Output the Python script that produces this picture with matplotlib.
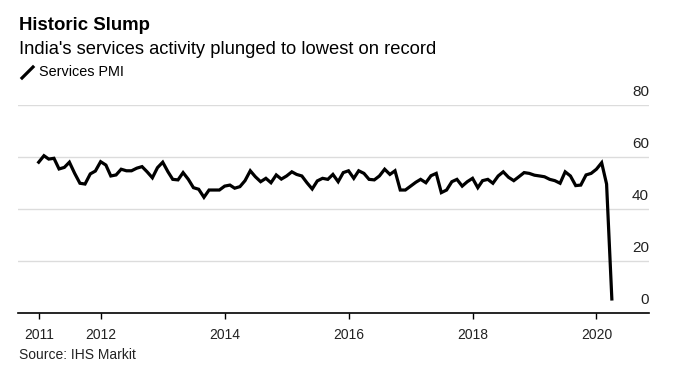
import numpy as np
import pandas as pd
import matplotlib
matplotlib.use("Agg")
import matplotlib.pyplot as plt
from matplotlib.lines import Line2D

plt.rcParams['font.family'] = ['Liberation Sans', 'DejaVu Sans']

# India services PMI, monthly from Jan 2011 to Apr 2020
pmi = [58.0, 60.5, 59.2, 59.5, 55.4, 56.0, 58.0, 53.7, 49.9, 49.6, 53.5, 54.6,
       58.2, 56.9, 52.7, 53.1, 55.3, 54.7, 54.7, 55.7, 56.3, 54.3, 52.0, 55.9,
       58.0, 54.3, 51.4, 51.2, 54.0, 51.4, 48.2, 47.6, 44.5, 47.3, 47.3, 47.3,
       48.8, 49.2, 48.0, 48.6, 50.9, 54.7, 52.4, 50.5, 51.8, 50.1, 53.1, 51.5,
       52.7, 54.3, 53.3, 52.7, 50.1, 47.7, 50.8, 51.8, 51.4, 53.3, 50.5, 54.0,
       54.7, 51.8, 54.7, 53.7, 51.4, 51.2, 52.7, 55.3, 53.3, 54.7, 47.3, 47.3,
       48.8, 50.3, 51.4, 50.1, 52.8, 53.7, 46.3, 47.3, 50.5, 51.4, 48.8, 50.5,
       51.8, 48.2, 50.9, 51.4, 49.9, 52.7, 54.3, 52.2, 50.9, 52.4, 54.0, 53.7,
       53.0, 52.7, 52.4, 51.4, 50.9, 49.9, 54.3, 52.7, 49.0, 49.2, 53.1, 53.7,
       55.3, 57.8, 49.6, 5.4]
months = pd.date_range("2011-01-01", periods=len(pmi), freq="MS")
year_ticks = [2011, 2012, 2014, 2016, 2018, 2020]
y_ticks = [0, 20, 40, 60, 80]

W, H = 679, 385
fig = plt.figure(figsize=(W / 100, H / 100), dpi=100)
ax = fig.add_axes([18 / W, 1 - 313 / H, (649 - 18) / W, (313 - 105) / H])

ax.plot(months, pmi, color="black", lw=2.3, solid_joinstyle="miter", zorder=3)

ax.set_ylim(0, 80)
ax.set_xlim(pd.Timestamp("2010-09-01"), pd.Timestamp("2020-11-06"))

# horizontal grid + right side labels sitting on top of the lines
for v in y_ticks[1:]:
    ax.axhline(v, color="#dcdcdc", lw=1, zorder=1)
for v in y_ticks:
    ax.annotate(str(v), xy=(1, v), xycoords=ax.get_yaxis_transform(),
                xytext=(0, 4), textcoords="offset points",
                ha="right", va="bottom", fontsize=11, color="#222222")

ax.set_yticks([])
ax.set_xticks([pd.Timestamp(f"{y}-01-01") for y in year_ticks])
ax.set_xticklabels([str(y) for y in year_ticks], fontsize=10, color="#222222")
ax.tick_params(axis="x", length=4, width=1, pad=7, color="black")
for s in ["top", "right", "left"]:
    ax.spines[s].set_visible(False)
ax.spines["bottom"].set_linewidth(1.2)

fig.text(19 / W, 1 - 26 / H, "Historic Slump", fontsize=13.4, fontweight="bold",
         va="center", ha="left", color="black")
fig.text(19 / W, 1 - 49 / H, "India's services activity plunged to lowest on record",
         fontsize=13.2, va="center", ha="left", color="black")
fig.add_artist(Line2D([22 / W, 33 / W], [1 - 78 / H, 1 - 67 / H], color="black",
                      lw=2.3, transform=fig.transFigure))
fig.text(39 / W, 1 - 72 / H, "Services PMI", fontsize=10.4, va="center", ha="left",
         color="black")
fig.text(19 / W, 1 - 355 / H, "Source: IHS Markit", fontsize=10, va="center",
         ha="left", color="#222222")

fig.savefig("out.png", dpi=100)
